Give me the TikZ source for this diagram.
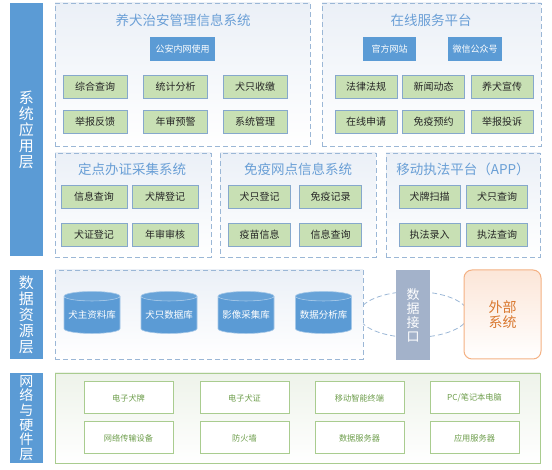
\documentclass[tikz,border=0pt]{standalone}
\usepackage{fontspec}
\setmainfont{Noto Sans CJK SC}
\usepackage{tikz}
\usetikzlibrary{positioning}
\usetikzlibrary{calc}
\usetikzlibrary{shapes.geometric}
\usetikzlibrary{backgrounds}

\definecolor{barblue}{HTML}{5B9BD5}
\definecolor{titleblue}{HTML}{6A9FD6}
\definecolor{dashblue}{HTML}{9BB7D6}
\definecolor{panel}{HTML}{EBF0F7}
\definecolor{itemgreen}{HTML}{C8E0B4}
\definecolor{itemedge}{HTML}{86A8CC}
\definecolor{portgray}{HTML}{A3B2CA}
\definecolor{extorange}{HTML}{F4B183}
\definecolor{exttext}{HTML}{D9782F}
\definecolor{extfill}{HTML}{FCE6D8}
\definecolor{hwedge}{HTML}{A9CC8F}
\definecolor{hwtext}{HTML}{6E9E4C}
\definecolor{hwfill}{HTML}{EEF3EA}

\tikzset{
  layer/.style={fill=barblue, text=white, inner sep=0pt, align=center,
    minimum width=33pt, font=\fontsize{15}{16}\selectfont},
  group/.style={draw=dashblue, dash pattern=on 5pt off 3pt, line width=0.8pt,
    top color=panel, bottom color=white, inner sep=0pt},
  title/.style={text=titleblue, inner sep=0pt, font=\fontsize{13.5}{15}\selectfont},
  tag/.style={fill=barblue, text=white, inner sep=0pt, minimum height=24pt,
    font=\fontsize{9}{10}\selectfont},
  item/.style={fill=itemgreen, draw=itemedge, line width=0.8pt, inner sep=0pt,
    minimum height=23pt, text=black!85, font=\fontsize{10}{11}\selectfont},
  db/.style={cylinder, shape border rotate=90, aspect=0.2, minimum width=56pt,
    minimum height=42pt, cylinder uses custom fill, cylinder body fill=barblue,
    cylinder end fill=barblue!92!white, draw=barblue!55!white, line width=0.6pt,
    text=white, inner sep=0pt, font=\fontsize{9.5}{10}\selectfont},
  port/.style={fill=portgray, text=white, inner sep=0pt, align=center,
    minimum width=34pt, minimum height=90pt, font=\fontsize{13}{14}\selectfont},
  ext/.style={draw=extorange, line width=1pt, rounded corners=8pt, top color=extfill,
    bottom color=white, text=exttext, align=center, inner sep=0pt,
    minimum width=77pt, minimum height=89pt, font=\fontsize{14}{15.5}\selectfont},
  hwpanel/.style={draw=hwedge, line width=0.8pt, top color=hwfill, bottom color=white,
    inner sep=0pt},
  hw/.style={draw=hwedge, line width=1pt, fill=white, inner sep=0pt,
    minimum width=89pt, minimum height=32pt, text=hwtext,
    font=\fontsize{8.2}{9}\selectfont},
  link/.style={draw=dashblue, dash pattern=on 5pt off 3pt, line width=0.8pt}
}

\begin{document}
\begin{tikzpicture}[x=1pt, y=-1pt]
  \useasboundingbox (0,0) rectangle (552,470);

  % application layer
  \node[layer, minimum height=253pt] (app) at (26.5,129.5) {系\\统\\应\\用\\层};

  \node[group, minimum width=255pt, minimum height=143pt] (police) at (182.5,74.5) {};
  \node[title] (tpolice) at (183,20) {养犬治安管理信息系统};
  \node[tag, minimum width=65pt] (intranet) at (182.5,49) {公安内网使用};
  \foreach \x/\y/\n/\t in {95/86.5/p1/综合查询, 175.5/86.5/p2/统计分析, 255/86.5/p3/犬只收缴,
                            95/122/p4/举报反馈, 175.5/122/p5/年审预警, 255/122/p6/系统管理}
    \node[item, minimum width=64pt] (\n) at (\x,\y) {\t};

  \node[group, minimum width=219pt, minimum height=143pt] (online) at (431.5,74.5) {};
  \node[title] (tonline) at (431,20) {在线服务平台};
  \node[tag, minimum width=53pt] (site) at (389.5,49) {官方网站};
  \node[tag, minimum width=54pt] (wechat) at (475,49) {微信公众号};
  \foreach \x/\y/\n/\t in {366/86.5/o1/法律法规, 433.5/86.5/o2/新闻动态, 502/86.5/o3/养犬宣传,
                            366/122/o4/在线申请, 433.5/122/o5/免疫预约, 502/122/o6/举报投诉}
    \node[item, minimum width=62pt] (\n) at (\x,\y) {\t};

  \node[group, minimum width=156pt, minimum height=104pt] (cert) at (133,205) {};
  \node[title] (tcert) at (132,169) {定点办证采集系统};
  \foreach \x/\y/\n/\t in {94/197/c1/信息查询, 165/197/c2/犬牌登记,
                            94/234.5/c3/犬证登记, 165/234.5/c4/年审审核}
    \node[item, minimum width=66pt] (\n) at (\x,\y) {\t};

  \node[group, minimum width=156pt, minimum height=104pt] (vacc) at (298,205) {};
  \node[title] (tvacc) at (298,169) {免疫网点信息系统};
  \foreach \x/\y/\n/\t in {259.5/197/v1/犬只登记, 330.5/197/v2/免疫记录,
                            259.5/234.5/v3/疫苗信息, 330.5/234.5/v4/信息查询}
    \node[item, minimum width=62pt] (\n) at (\x,\y) {\t};

  \node[group, minimum width=154pt, minimum height=104pt] (mobile) at (463,205) {};
  \node[title] (tmobile) at (463,169) {移动执法平台（APP）};
  \foreach \x/\y/\n/\t in {429.5/197/m1/犬牌扫描, 497/197/m2/犬只查询,
                            429.5/234.5/m3/执法录入, 497/234.5/m4/执法查询}
    \node[item, minimum width=61pt] (\n) at (\x,\y) {\t};

  % data layer
  \node[layer, minimum height=89pt] (data) at (26.5,314.5) {数\\据\\资\\源\\层};
  \node[group, minimum width=308pt, minimum height=89pt] (store) at (209,314.5) {};
  \foreach \x/\n/\t in {92/d1/犬主资料库, 169/d2/犬只数据库, 246/d3/影像采集库, 323.5/d4/数据分析库}
    \node[db] (\n) at (\x,315) {\t};
  \node[port] (iface) at (413,315) {数\\据\\接\\口};
  \node[ext] (ext) at (502.5,314.5) {外部\\系统};
  \begin{scope}[on background layer]
    \draw[link] ($(store.east)!0.5!(ext.west)$) ellipse [x radius=55pt, y radius=23pt];
  \end{scope}

  % network and hardware layer
  \node[layer, minimum height=90pt, font=\fontsize{14}{14.6}\selectfont] (net) at (26.5,418)
    {网\\络\\与\\硬\\件\\层};
  \node[hwpanel, minimum width=485pt, minimum height=90pt] (hwbox) at (297.5,418) {};
  \foreach \x/\y/\n/\t in {128.5/398/h1/电子犬牌, 244.5/398/h2/电子犬证, 359.5/398/h3/移动智能终端,
                            474.5/398/h4/{PC/笔记本电脑}}
    \node[hw] (\n) at (\x,\y) {\t};
  \foreach \x/\y/\n/\t in {128.5/438/h5/网络传输设备, 244.5/438/h6/防火墙, 359.5/438/h7/数据服务器,
                            474.5/438/h8/应用服务器}
    \node[hw] (\n) at (\x,\y) {\t};
\end{tikzpicture}
\end{document}
